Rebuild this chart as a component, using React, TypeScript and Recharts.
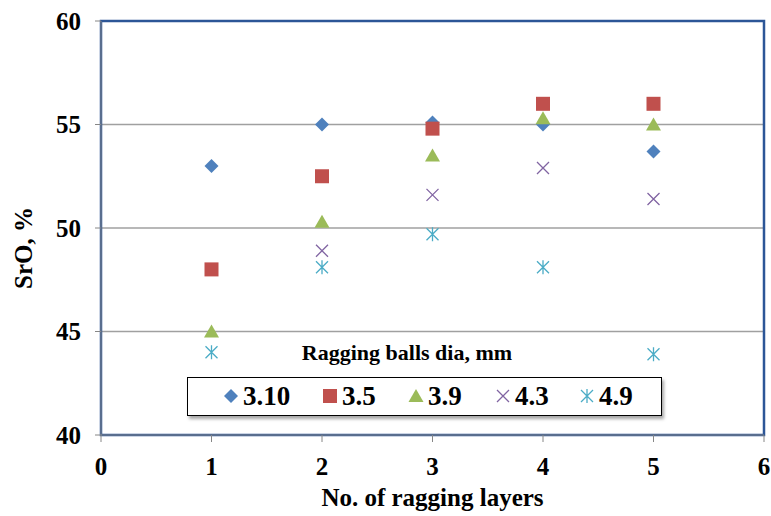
import React from 'react';
import {
  ScatterChart,
  Scatter,
  XAxis,
  YAxis,
  CartesianGrid,
  ReferenceArea,
} from 'recharts';

const layers = [1, 2, 3, 4, 5];
const dia310 = [53.0, 55.0, 55.1, 55.0, 53.7];
const dia35 = [48.0, 52.5, 54.8, 56.0, 56.0];
const dia39 = [45.0, 50.3, 53.5, 55.3, 55.0];
const dia43 = [null, 48.9, 51.6, 52.9, 51.4];
const dia49 = [44.0, 48.1, 49.7, 48.1, 43.9];
const xTicks = [0, 1, 2, 3, 4, 5, 6];
const yTicks = [40, 45, 50, 55, 60];

const toPoints = (vals: (number | null)[]) =>
  layers
    .map((x, i) => ({ x, y: vals[i] }))
    .filter((p) => p.y !== null);

const FONT = '"Liberation Serif", "Times New Roman", serif';

const Diamond = ({ cx, cy, fill }: any) => (
  <path d={`M${cx},${cy - 7}L${cx + 7},${cy}L${cx},${cy + 7}L${cx - 7},${cy}Z`} fill={fill} />
);
const Square = ({ cx, cy, fill }: any) => (
  <rect x={cx - 7} y={cy - 7} width={14} height={14} fill={fill} />
);
const Triangle = ({ cx, cy, fill }: any) => (
  <path d={`M${cx},${cy - 7}L${cx + 7.5},${cy + 6}L${cx - 7.5},${cy + 6}Z`} fill={fill} />
);
const XMark = ({ cx, cy, fill }: any) => (
  <path d={`M${cx - 6},${cy - 6}L${cx + 6},${cy + 6}M${cx + 6},${cy - 6}L${cx - 6},${cy + 6}`} stroke={fill} strokeWidth={1.3} />
);
const Star = ({ cx, cy, fill }: any) => (
  <path
    d={`M${cx - 6},${cy - 6}L${cx + 6},${cy + 6}M${cx + 6},${cy - 6}L${cx - 6},${cy + 6}M${cx},${cy - 7}L${cx},${cy + 7}`}
    stroke={fill}
    strokeWidth={1.3}
  />
);

const series = [
  { name: '3.10', data: dia310, color: '#4F81BD', shape: Diamond },
  { name: '3.5', data: dia35, color: '#C0504D', shape: Square },
  { name: '3.9', data: dia39, color: '#9BBB59', shape: Triangle },
  { name: '4.3', data: dia43, color: '#8064A2', shape: XMark },
  { name: '4.9', data: dia49, color: '#4BACC6', shape: Star },
];
// legend marker centres, relative to the legend box
const legendX = [43, 142, 228, 315, 399];

const tickStyle = { fill: '#000', fontSize: 25, fontWeight: 'bold', fontFamily: FONT };

const YTitle = ({ viewBox }: any) => {
  const x = 23;
  const y = viewBox.y + viewBox.height / 2 + 20;
  return (
    <text x={x} y={y} transform={`rotate(-90 ${x} ${y})`} textAnchor="middle" dominantBaseline="central" {...tickStyle}>
      SrO, %
    </text>
  );
};

const LegendBox = () => (
  <div style={{ fontFamily: FONT, fontWeight: 'bold', color: '#000' }}>
    <div
      style={{
        position: 'absolute',
        left: 187,
        top: 339,
        width: 440,
        textAlign: 'center',
        fontSize: 22,
        lineHeight: '28px',
      }}
    >
      Ragging balls dia, mm
    </div>
    <div
      style={{
        position: 'absolute',
        left: 187,
        top: 377,
        width: 475,
        height: 39,
        boxSizing: 'border-box',
        border: '1.5px solid #000',
        background: '#fff',
        boxShadow: '2px 3px 3px rgba(0,0,0,0.35)',
        fontSize: 27,
      }}
    >
      {series.map((s, i) => {
        const Shape = s.shape;
        return (
          <div
            key={s.name}
            style={{ position: 'absolute', left: legendX[i] - 9, top: 0, height: 36, display: 'flex', alignItems: 'center' }}
          >
            <svg width={18} height={18} style={{ marginRight: 3 }}>
              <Shape cx={9} cy={9} fill={s.color} />
            </svg>
            <span style={{ lineHeight: '36px' }}>{s.name}</span>
          </div>
        );
      })}
    </div>
  </div>
);

export default function App() {
  return (
    <div style={{ position: 'absolute', left: 0, top: 0, width: 771, height: 516, background: '#fff' }}>
      <ScatterChart width={771} height={516} margin={{ top: 21, right: 7, left: 0, bottom: 0 }}>
        <CartesianGrid horizontal vertical={false} stroke="#A0A0A0" strokeWidth={1.3} />
        <XAxis
          type="number"
          dataKey="x"
          domain={[0, 6]}
          ticks={xTicks}
          interval={0}
          height={81}
          tickSize={7}
          tickMargin={15}
          stroke="#868686"
          tick={tickStyle}
          label={{ value: 'No. of ragging layers', position: 'insideBottom', offset: 10, ...tickStyle }}
        />
        <YAxis
          type="number"
          dataKey="y"
          domain={[40, 60]}
          ticks={yTicks}
          interval={0}
          width={101}
          tickSize={6}
          tickMargin={14}
          stroke="#868686"
          tick={tickStyle}
          label={<YTitle />}
        />
        <ReferenceArea x1={0} x2={6} y1={40} y2={60} fill="none" stroke="#2C5697" strokeWidth={2.5} ifOverflow="visible" />
        {series.map((s) => (
          <Scatter
            key={s.name}
            name={s.name}
            data={toPoints(s.data)}
            fill={s.color}
            shape={s.shape}
            isAnimationActive={false}
          />
        ))}
      </ScatterChart>
      <LegendBox />
    </div>
  );
}
